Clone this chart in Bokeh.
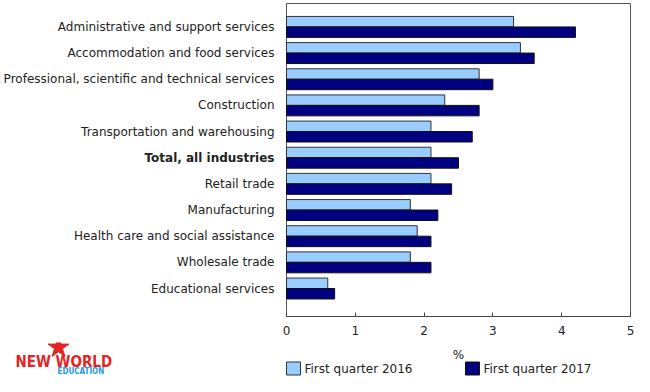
from bokeh.plotting import figure
from bokeh.layouts import column
from bokeh.models import Range1d, FixedTicker, ColumnDataSource
from bokeh.core.properties import value
from bokeh.embed import file_html
from bokeh.resources import INLINE

categories = [
    "Administrative and support services",
    "Accommodation and food services",
    "Professional, scientific and technical services",
    "Construction",
    "Transportation and warehousing",
    "Total, all industries",
    "Retail trade",
    "Manufacturing",
    "Health care and social assistance",
    "Wholesale trade",
    "Educational services",
]
q1_2016 = [3.3, 3.4, 2.8, 2.3, 2.1, 2.1, 2.1, 1.8, 1.9, 1.8, 0.6]
q1_2017 = [4.2, 3.6, 3.0, 2.8, 2.7, 2.5, 2.4, 2.2, 2.1, 2.1, 0.7]
series_names = ["First quarter 2016", "First quarter 2017"]
x_ticks = [0, 1, 2, 3, 4, 5]
x_label = "%"

FONT = "DejaVu Sans"
TXT = "#222222"
LIGHT = "#99ccff"
DARK = "#000080"
LIGHT_LINE = "#333333"
DARK_LINE = "#111111"

W = 634
A_H, B_H = 342, 34
BORDER_R = 2
X0_PX, XMAX_PX = 286, 630
X_MAX = max(x_ticks)
PPU = (XMAX_PX - X0_PX) / X_MAX
x_range = Range1d(-X0_PX / PPU, X_MAX + (W - BORDER_R - XMAX_PX) / PPU)

def xpx(px):
    return (px - X0_PX) / PPU

BOX_TOP_PX, AXIS_PX = 3, 316
Y_TOP, Y_BOT = -0.895, len(categories) + 0.07
k = (AXIS_PX - BOX_TOP_PX) / (Y_BOT - Y_TOP)

idx = list(range(len(categories)))
src = ColumnDataSource(dict(
    y16=[i - 0.2 for i in idx],
    y17=[i + 0.2 for i in idx],
    v16=q1_2016,
    v17=q1_2017,
))
lsrc = ColumnDataSource(dict(
    y=idx,
    text=categories,
    style=["bold" if c.startswith("Total") else "normal" for c in categories],
))

# ---------------- main chart
p = figure(width=W, height=A_H, output_backend="svg", toolbar_location=None,
           x_range=x_range, y_range=Range1d(Y_BOT, Y_TOP - BOX_TOP_PX / k),
           min_border_left=0, min_border_right=BORDER_R, min_border_top=0,
           min_border_bottom=A_H - AXIS_PX)
p.xgrid.visible = False
p.ygrid.visible = False
p.yaxis.visible = False
p.outline_line_color = None

# plot box
p.quad(left=[0], right=[X_MAX], top=[Y_TOP], bottom=[Y_BOT],
       fill_alpha=0, line_color="#555555", line_width=1)

p.hbar(y="y16", right="v16", left=0, height=0.4, source=src,
       fill_color=LIGHT, line_color=LIGHT_LINE, line_width=1)
p.hbar(y="y17", right="v17", left=0, height=0.4, source=src,
       fill_color=DARK, line_color=DARK_LINE, line_width=1)

p.text(x=0, y="y", text="text", source=lsrc, x_offset=-12,
       text_align="right", text_baseline="middle",
       text_font=value(FONT), text_font_size="12px", text_color=TXT,
       text_font_style="style")

xa = p.xaxis[0]
xa.bounds = (0, X_MAX)
xa.ticker = FixedTicker(ticks=x_ticks)
xa.major_tick_in = 4
xa.major_tick_out = 0
xa.minor_tick_line_color = None
xa.axis_line_color = "#444444"
xa.major_tick_line_color = "#444444"
xa.major_label_text_font = FONT
xa.major_label_text_font_size = "12px"
xa.major_label_text_color = TXT
xa.major_label_standoff = 9

# ---------------- lower strip: axis title, legend, logo
b = figure(width=W, height=B_H, output_backend="svg", toolbar_location=None,
           x_range=x_range, y_range=Range1d(B_H, 0),
           min_border_left=0, min_border_right=BORDER_R, min_border_top=0, min_border_bottom=0)
b.axis.visible = False
b.grid.visible = False
b.outline_line_color = None

b.text(x=[X_MAX / 2], y=[12], text=[x_label], text_align="center", text_baseline="middle",
       text_font=value(FONT), text_font_size="12px", text_color=TXT)

# legend (swatch + label per series)
leg_px = [293, 472]
b.rect(x=[xpx(v) for v in leg_px], y=[26, 26], width=14, height=13,
       width_units="screen", height_units="screen",
       fill_color=[LIGHT, DARK], line_color=[LIGHT_LINE, DARK_LINE], line_width=1)
b.text(x=[xpx(v + 11) for v in leg_px], y=[26, 26], text=series_names,
       text_align="left", text_baseline="middle",
       text_font=value(FONT), text_font_size="12px", text_color=TXT)

# watermark logo
b.scatter(x=[xpx(58)], y=[5], marker="star", size=22, fill_color="#e32526",
          line_color="#e32526")
b.text(x=[xpx(15)], y=[19], text=["NEW WORLD"], text_align="left",
       text_baseline="middle", text_font=value("DejaVu Sans Condensed"), text_font_style="bold",
       text_font_size="15px", text_color="#e32526")
b.text(x=[xpx(57)], y=[29], text=["EDUCATION"], text_align="left",
       text_baseline="middle", text_font=value("DejaVu Sans Condensed"), text_font_style="bold",
       text_font_size="8px", text_color="#1e9be0")

layout = column(p, b, spacing=0)
open("out.html", "w").write(file_html(layout, INLINE))
